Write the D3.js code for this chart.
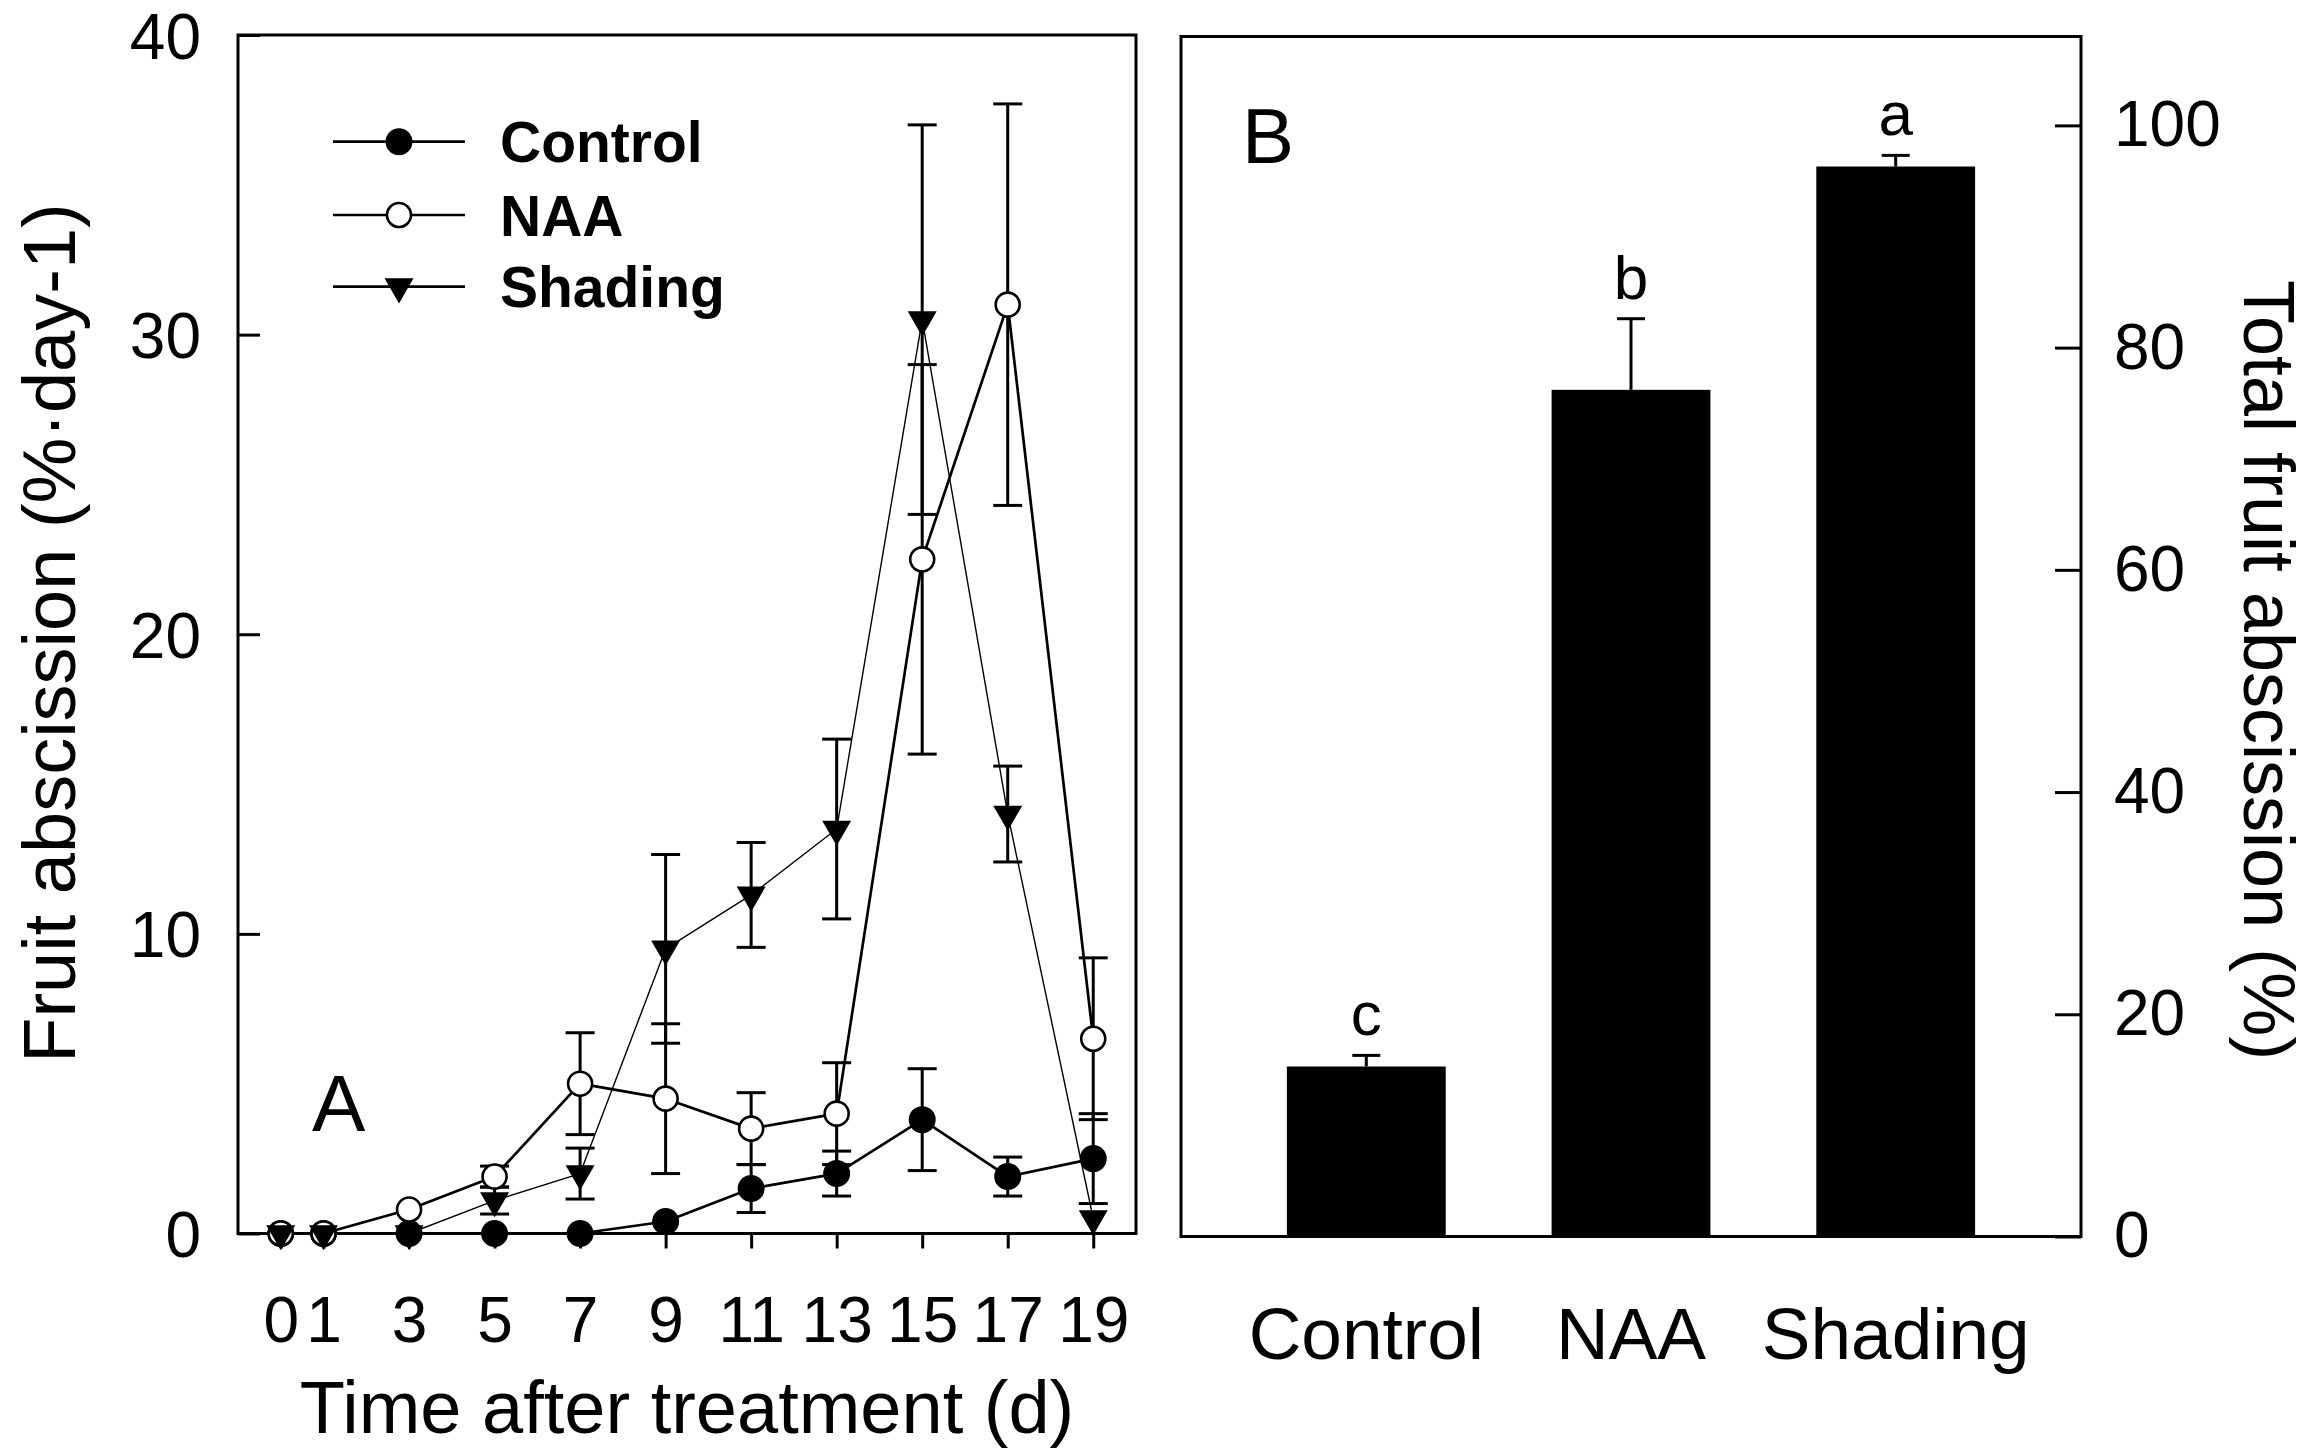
<!DOCTYPE html>
<html>
<head>
<meta charset="utf-8">
<script src="https://cdn.jsdelivr.net/npm/d3@7"></script>
<style>
  html, body { margin: 0; padding: 0; background: #fff; }
  svg { display: block; }
</style>
</head>
<body>
<script>
// ---------------- Data ----------------
const days = [0, 1, 3, 5, 7, 9, 11, 13, 15, 17, 19];
const seriesNames = ["Control", "NAA", "Shading"];
const controlValues = [0, 0, 0, 0, 0, 0.4, 1.5, 2.0, 3.8, 1.9, 2.5];
const controlErrors = [0, 0, 0, 0, 0, 0, 0.8, 0.75, 1.7, 0.65, 1.5];
const naaValues     = [0, 0, 0.8, 1.9, 5.0, 4.5, 3.5, 4.0, 22.5, 31.0, 6.5];
const naaErrors     = [0, 0, 0, 0.35, 1.7, 2.5, 1.2, 1.7, 6.5, 6.7, 2.7];
const shadingValues = [0, 0, 0, 1.1, 2.0, 9.5, 11.3, 13.5, 30.5, 14.0, 0.5];
const shadingErrors = [0, 0, 0, 0.45, 0.85, 3.15, 1.75, 3.0, 6.5, 1.6, 0];
const yTicksA = [0, 10, 20, 30, 40];

const barCategories = ["Control", "NAA", "Shading"];
const barValues = [15.3, 76.2, 96.3];
const barErrors = [1.0, 6.4, 1.0];
const barLetters = ["c", "b", "a"];
const yTicksB = [0, 20, 40, 60, 80, 100];

// ---------------- Setup ----------------
const W = 2309, H = 1454;
const FONT = "'Liberation Sans', Arial, Helvetica, sans-serif";
const svg = d3.select("body").append("svg")
  .attr("width", W).attr("height", H)
  .attr("viewBox", `0 0 ${W} ${H}`)
  .style("font-family", FONT);
svg.append("rect").attr("width", W).attr("height", H).attr("fill", "#fff");

// ---------------- Panel A ----------------
const A = { left: 238, right: 1136, top: 35, bottom: 1233.5 };
const xA = d3.scaleLinear().domain([-1, 20]).range([A.left, A.right]);
const yA = d3.scaleLinear().domain([0, 40]).range([A.bottom, A.top]);

const series = [
  { name: seriesNames[0], values: controlValues, errors: controlErrors, marker: "filled", lw: 2.7 },
  { name: seriesNames[1], values: naaValues, errors: naaErrors, marker: "open", lw: 2.7 },
  { name: seriesNames[2], values: shadingValues, errors: shadingErrors, marker: "tri", lw: 1.4 }
];
series.forEach(s => { s.points = days.map((d, i) => ({ x: d, y: s.values[i], e: s.errors[i] })); });

const gA = svg.append("g");

// axes
const yAxisA = d3.axisLeft(yA).tickValues(yTicksA).tickSizeInner(-22).tickSizeOuter(0).tickPadding(37);
const gyA = gA.append("g").attr("transform", `translate(${A.left},0)`).call(yAxisA);
const xAxisA = d3.axisBottom(xA).tickValues(days).tickSizeInner(15).tickSizeOuter(0).tickPadding(48);
const gxA = gA.append("g").attr("transform", `translate(0,${A.bottom})`).call(xAxisA);
[gyA, gxA].forEach(g => {
  g.select(".domain").remove();
  g.selectAll("line").attr("stroke", "#000").attr("stroke-width", 3);
  g.selectAll("text").attr("fill", "#000").style("font-family", FONT).style("font-size", "64px");
});
gyA.selectAll("text").attr("dy", "0.36em");

// frame
gA.append("rect").attr("x", A.left).attr("y", A.top)
  .attr("width", A.right - A.left).attr("height", A.bottom - A.top)
  .attr("fill", "none").attr("stroke", "#000").attr("stroke-width", 3);

// lines
const lineGen = d3.line().x(d => xA(d.x)).y(d => yA(d.y));
series.forEach(s => {
  gA.append("path").datum(s.points).attr("d", lineGen)
    .attr("fill", "none").attr("stroke", "#000").attr("stroke-width", s.lw)
    .attr("stroke-linejoin", "round");
});

// error bars
const capW = 29;
series.forEach(s => {
  const pts = s.points.filter(p => p.e > 0);
  const g = gA.append("g").attr("stroke", "#000").attr("stroke-width", 3);
  pts.forEach(p => {
    const x = xA(p.x), y1 = yA(p.y + p.e), y2 = yA(p.y - p.e);
    g.append("line").attr("x1", x).attr("x2", x).attr("y1", y1).attr("y2", y2);
    g.append("line").attr("x1", x - capW / 2).attr("x2", x + capW / 2).attr("y1", y1).attr("y2", y1);
    g.append("line").attr("x1", x - capW / 2).attr("x2", x + capW / 2).attr("y1", y2).attr("y2", y2);
  });
});

// markers
const triSym = d3.symbol(d3.symbolTriangle, 364);
function drawMarker(g, type, x, y) {
  if (type === "filled") {
    g.append("circle").attr("cx", x).attr("cy", y).attr("r", 13.5).attr("fill", "#000");
  } else if (type === "open") {
    g.append("circle").attr("cx", x).attr("cy", y).attr("r", 12).attr("fill", "#fff")
      .attr("stroke", "#000").attr("stroke-width", 2.6);
  } else {
    g.append("path").attr("d", triSym()).attr("transform", `translate(${x},${y}) rotate(180)`)
      .attr("fill", "#000");
  }
}
series.forEach(s => {
  const g = gA.append("g");
  s.points.forEach(p => drawMarker(g, s.marker, xA(p.x), yA(p.y)));
});

// legend
const legRows = [141.7, 215, 286.7];
series.forEach((s, i) => {
  const g = gA.append("g");
  g.append("line").attr("x1", 333).attr("x2", 465).attr("y1", legRows[i]).attr("y2", legRows[i])
    .attr("stroke", "#000").attr("stroke-width", 2.7);
  drawMarker(g, s.marker, 399, legRows[i]);
  g.append("text").attr("x", 500).attr("y", legRows[i] + 20.5)
    .attr("font-weight", "bold").attr("font-size", 57).text(s.name);
});

// panel letter A
gA.append("text").attr("x", 312).attr("y", 1131).attr("font-size", 80).text("A");

// axis titles A
gA.append("text").attr("x", (A.left + A.right) / 2).attr("y", 1433)
  .attr("text-anchor", "middle").attr("font-size", 74).text("Time after treatment (d)");
gA.append("text").attr("transform", `translate(75,633) rotate(-90)`)
  .attr("text-anchor", "middle").attr("font-size", 74).text("Fruit abscission (%·day-1)");

// ---------------- Panel B ----------------
const B = { left: 1181, right: 2081, top: 36.5, bottom: 1236.5 };
const xB = d3.scaleBand().domain(barCategories).range([B.left, B.right]).padding(0.4);
const yB = d3.scaleLinear().domain([0, 108]).range([B.bottom, B.top]);
const gB = svg.append("g");

const yAxisB = d3.axisRight(yB).tickValues(yTicksB).tickSizeInner(-26).tickSizeOuter(0).tickPadding(33);
const gyB = gB.append("g").attr("transform", `translate(${B.right},0)`).call(yAxisB);
gyB.select(".domain").remove();
gyB.selectAll("line").attr("stroke", "#000").attr("stroke-width", 3);
gyB.selectAll("text").attr("fill", "#000").style("font-family", FONT).style("font-size", "64px");

// bars
barCategories.forEach((c, i) => {
  gB.append("rect").attr("x", xB(c)).attr("y", yB(barValues[i]))
    .attr("width", xB.bandwidth()).attr("height", yB(0) - yB(barValues[i]))
    .attr("fill", "#000");
  const cx = xB(c) + xB.bandwidth() / 2;
  const yt = yB(barValues[i] + barErrors[i]);
  gB.append("line").attr("x1", cx).attr("x2", cx).attr("y1", yB(barValues[i])).attr("y2", yt)
    .attr("stroke", "#000").attr("stroke-width", 3);
  gB.append("line").attr("x1", cx - 14).attr("x2", cx + 14).attr("y1", yt).attr("y2", yt)
    .attr("stroke", "#000").attr("stroke-width", 3);
  gB.append("text").attr("x", cx).attr("y", yt - 20).attr("text-anchor", "middle")
    .attr("font-size", 62).text(barLetters[i]);
  gB.append("text").attr("x", cx).attr("y", 1359).attr("text-anchor", "middle")
    .attr("font-size", 73).text(c);
});

// frame
gB.append("rect").attr("x", B.left).attr("y", B.top)
  .attr("width", B.right - B.left).attr("height", B.bottom - B.top)
  .attr("fill", "none").attr("stroke", "#000").attr("stroke-width", 3);

gB.append("text").attr("x", 1242).attr("y", 163).attr("font-size", 78).text("B");

gB.append("text").attr("transform", `translate(2244,670) rotate(90)`)
  .attr("text-anchor", "middle").attr("font-size", 72).text("Total fruit abscission (%)");
</script>
</body>
</html>
